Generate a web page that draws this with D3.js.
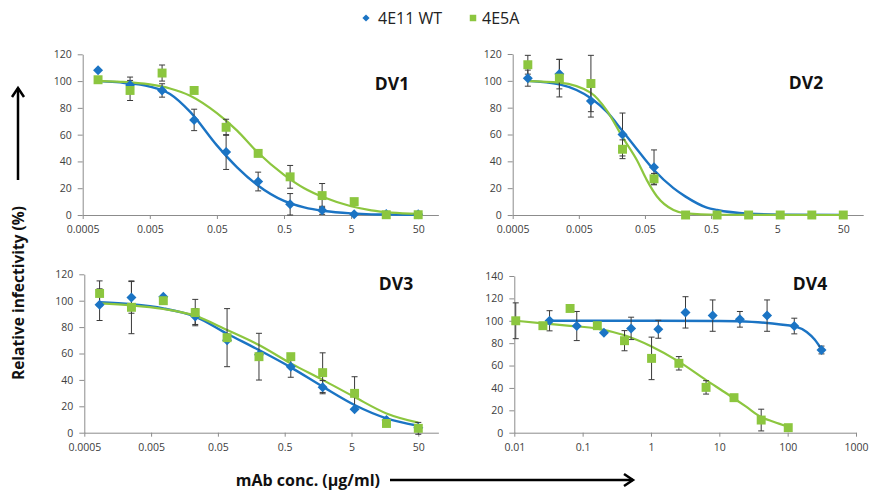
<!DOCTYPE html>
<html><head><meta charset="utf-8">
<script src="https://cdn.jsdelivr.net/npm/d3@7"></script>
<style>body{margin:0;background:#fff}svg{display:block}</style>
</head><body><svg id="c" width="871" height="491"></svg>
<script>
// ---------------- DATA ----------------
const seriesNames = ["4E11 WT", "4E5A"];
const panelNames = ["DV1", "DV2", "DV3", "DV4"];
const xTickValuesA = [0.0005, 0.005, 0.05, 0.5, 5, 50];
const xTickLabelsA = ["0.0005", "0.005", "0.05", "0.5", "5", "50"];
const xTickValuesB = [0.01, 0.1, 1, 10, 100, 1000];
const xTickLabelsB = ["0.01", "0.1", "1", "10", "100", "1000"];
const yTicks120 = [0, 20, 40, 60, 80, 100, 120];
const yTicks140 = [0, 20, 40, 60, 80, 100, 120, 140];
const xAxisTitle = "mAb conc. (µg/ml)";
const yAxisTitle = "Relative infectivity (%)";

// concentrations (µg/ml) for DV1-DV3
const concA = [0.000847, 0.00254, 0.00762, 0.0229, 0.0686, 0.206, 0.617, 1.85, 5.56, 16.7, 50];

// DV1
const dv1WtVal = [108, 97, 93, 71, 47, 25, 8, 3.5, 0.5, 0.7, 0.5];
const dv1WtErr = [0, 6, 5, 8, 13, 7, 8, 3, 0, 0, 0];
const dv1MutVal = [101, 93, 106, 93, 65.5, 46, 28.5, 14.5, 10, 0.2, 0.2];
const dv1MutErr = [0, 7.5, 6, 0, 6, 0, 8.5, 9, 0, 0, 0];
const dv1FitConc = [0.000847, 0.001, 0.002, 0.005, 0.01, 0.02, 0.05, 0.1, 0.2, 0.5, 1, 2, 5, 10, 20, 50];
const dv1WtFit = [100, 99.8, 98.8, 95.9, 90.4, 77, 52, 35.6, 22.4, 10.5, 5.7, 3, 1.2, 0.5, 0.3, 0.2];
const dv1MutFit = [100, 99.9, 99.4, 97.5, 94.5, 89, 76, 63, 47, 30, 20, 13, 6.5, 3.5, 1.8, 0.8];

// DV2
const dv2WtConc = [0.000847, 0.00254, 0.00762, 0.0229, 0.0686];
const dv2WtVal = [102, 105, 85, 60, 35.5];
const dv2WtErr = [6, 11, 12, 16, 13];
const dv2MutVal = [112, 102, 98, 49, 27, 0, 0, 0, 0, 0, 0];
const dv2MutErr = [7, 14, 21, 7, 4, 0, 0, 0, 0, 0, 0];
const dv2WtFitConc = [0.000847, 0.00254, 0.00762, 0.0132, 0.0229, 0.0423, 0.0686, 0.135, 0.206, 0.432, 0.617, 1.85, 5.56, 50];
const dv2WtFit = [100, 97.4, 87, 77, 62.6, 46, 33.5, 20, 13.7, 5.5, 3.7, 1, 0.3, 0.1];
const dv2MutFitConc = [0.000847, 0.00254, 0.00762, 0.0132, 0.0229, 0.0377, 0.0534, 0.0756, 0.135, 0.206, 0.617, 50];
const dv2MutFit = [99.8, 98.6, 91, 78, 58, 41, 26, 14, 3.7, 1.2, 0.2, 0];

// DV3
const dv3WtVal = [97, 102.5, 103, 88, 70, 59, 50, 34.5, 17.7, 9.6, 3.8];
const dv3WtErr = [12, 12, 0, 6, 0, 0, 8, 5, 0, 0, 0];
const dv3MutVal = [105.5, 95, 100, 91, 72, 57.6, 57.6, 45.5, 29.8, 7, 3.3];
const dv3MutErr = [9.5, 20, 0, 10, 22, 17.7, 0, 15, 12.6, 0, 4.5];
const dv3WtFit = [98.8, 97.3, 94.2, 88, 75, 62.6, 49.5, 34.9, 21, 10.9, 5.3];
const dv3MutFit = [98, 96.5, 93.7, 88.5, 77.8, 66.4, 52.5, 40, 27, 14.6, 7.6];

// DV4
const dv4WtConc = [0.0328, 0.082, 0.205, 0.512, 1.28, 3.2, 8, 20, 50, 125, 312.5];
const dv4WtVal = [100, 95.3, 89.4, 93.2, 92.4, 107.5, 104.6, 101.3, 104.6, 95.3, 73.9];
const dv4WtErr = [9, 13, 0, 10, 8, 14, 14, 7, 14, 7, 3.5];
const dv4MutConc = [0.0105, 0.0262, 0.0655, 0.164, 0.41, 1.02, 2.56, 6.4, 16.4, 41, 102];
const dv4MutVal = [100, 95.6, 111, 95.6, 82.2, 66.4, 62, 40.5, 31.3, 11.3, 4.5];
const dv4MutErr = [16, 0, 0, 0, 9, 19, 6, 6, 0, 9.7, 0];
const dv4WtFitConc = [0.0328, 1, 10, 30, 60, 100, 128, 190, 250, 312.5];
const dv4WtFit = [100, 100, 99.8, 99, 97.6, 96, 95, 90, 83, 74.5];
const dv4MutFitConc = [0.0105, 0.0262, 0.0655, 0.164, 0.41, 1.02, 2.56, 6.4, 12.8, 25, 40, 62, 102];
const dv4MutFit = [100, 97.7, 95.5, 93, 87, 77, 63.5, 47, 35, 23, 14.3, 9.8, 5.4];

// ---------------- LAYOUT ----------------
const blue = "#1b74c4", green = "#8cc63f";
const zip = (xs, ys, es) => xs.map((x, i) => ({x, y: ys[i], e: es ? es[i] : 0}));
const panels = [
  {name: panelNames[0], xd: [0.0005, 100], xr: [82.7, 438.4], yd: [0, 120], yr: [215, 54.3], yt: yTicks120,
   xt: xTickValuesA, xl: xTickLabelsA, lab: [392, 83],
   wt: zip(concA, dv1WtVal, dv1WtErr), mut: zip(concA, dv1MutVal, dv1MutErr),
   wtFit: zip(dv1FitConc, dv1WtFit), mutFit: zip(dv1FitConc, dv1MutFit)},
  {name: panelNames[1], xd: [0.0005, 100], xr: [512.7, 863.2], yd: [0, 120], yr: [215, 54], yt: yTicks120,
   xt: xTickValuesA, xl: xTickLabelsA, lab: [806, 82],
   wt: zip(dv2WtConc, dv2WtVal, dv2WtErr), mut: zip(concA, dv2MutVal, dv2MutErr),
   wtFit: zip(dv2WtFitConc, dv2WtFit), mutFit: zip(dv2MutFitConc, dv2MutFit)},
  {name: panelNames[2], xd: [0.0005, 100], xr: [84.3, 438.4], yd: [0, 120], yr: [432.7, 274.3], yt: yTicks120,
   xt: xTickValuesA, xl: xTickLabelsA, lab: [396, 283],
   wt: zip(concA, dv3WtVal, dv3WtErr), mut: zip(concA, dv3MutVal, dv3MutErr),
   wtFit: zip(concA, dv3WtFit), mutFit: zip(concA, dv3MutFit)},
  {name: panelNames[3], xd: [0.01, 1000], xr: [514.3, 856], yd: [0, 140], yr: [432.7, 276], yt: yTicks140,
   xt: xTickValuesB, xl: xTickLabelsB, lab: [810, 283],
   wt: zip(dv4WtConc, dv4WtVal, dv4WtErr), mut: zip(dv4MutConc, dv4MutVal, dv4MutErr),
   wtFit: zip(dv4WtFitConc, dv4WtFit), mutFit: zip(dv4MutFitConc, dv4MutFit)}
];

const svg = d3.select("#c");
const font = "'Open Sans', 'Liberation Sans', sans-serif";
const axisCol = "#8c8c8c", textCol = "#404040";

panels.forEach(p => {
  const x = d3.scaleLog().domain(p.xd).range(p.xr);
  const y = d3.scaleLinear().domain(p.yd).range(p.yr);
  const g = svg.append("g");

  const xa = g.append("g").attr("transform", `translate(0,${p.yr[0]})`)
    .call(d3.axisBottom(x).tickValues(p.xt).tickFormat((d, i) => p.xl[i]).tickSize(4).tickSizeOuter(0).tickPadding(7));
  const ya = g.append("g").attr("transform", `translate(${p.xr[0]},0)`)
    .call(d3.axisLeft(y).tickValues(p.yt).tickSize(5).tickSizeOuter(0).tickPadding(6));
  [xa, ya].forEach(a => {
    a.selectAll("path,line").attr("stroke", axisCol).attr("stroke-width", 1);
    a.selectAll("text").attr("fill", textCol).style("font-family", font).style("font-size", "10.5px");
  });

  const line = d3.line().x(d => x(d.x)).y(d => y(d.y)).curve(d3.curveMonotoneX);
  g.append("path").datum(p.wtFit).attr("d", line).attr("fill", "none").attr("stroke", blue).attr("stroke-width", 2.4);
  g.append("path").datum(p.mutFit).attr("d", line).attr("fill", "none").attr("stroke", green).attr("stroke-width", 2.2);

  const drawErr = (data) => {
    const eg = g.append("g").attr("stroke", "#3a3a3a").attr("stroke-width", 1);
    data.filter(d => d.e > 0).forEach(d => {
      const cx = x(d.x), y1 = y(d.y + d.e), y2 = y(d.y - d.e);
      eg.append("line").attr("x1", cx).attr("x2", cx).attr("y1", y1).attr("y2", y2);
      eg.append("line").attr("x1", cx - 3).attr("x2", cx + 3).attr("y1", y1).attr("y2", y1);
      eg.append("line").attr("x1", cx - 3).attr("x2", cx + 3).attr("y1", y2).attr("y2", y2);
    });
  };
  drawErr(p.wt);
  drawErr(p.mut);

  g.selectAll(".wt").data(p.wt).join("path")
    .attr("d", d3.symbol(d3.symbolSquare, 50)())
    .attr("transform", d => `translate(${x(d.x)},${y(d.y)}) rotate(45)`)
    .attr("fill", blue);
  g.selectAll(".mut").data(p.mut).join("path")
    .attr("d", d3.symbol(d3.symbolSquare, 80)())
    .attr("transform", d => `translate(${x(d.x)},${y(d.y)})`)
    .attr("fill", green);

  g.append("text").attr("x", p.lab[0]).attr("y", p.lab[1]).attr("text-anchor", "middle")
    .attr("dominant-baseline", "central").style("font-family", font).style("font-weight", "bold")
    .style("font-size", "17.5px").attr("fill", "#111").text(p.name);
});

// legend
const lg = svg.append("g");
lg.append("path").attr("d", d3.symbol(d3.symbolSquare, 26)()).attr("transform", "translate(366,18) rotate(45)").attr("fill", blue);
lg.append("text").attr("x", 378).attr("y", 18).attr("dominant-baseline", "central")
  .style("font-family", font).style("font-size", "16px").attr("fill", "#222").text(seriesNames[0]);
lg.append("path").attr("d", d3.symbol(d3.symbolSquare, 42)()).attr("transform", "translate(473,18)").attr("fill", green);
lg.append("text").attr("x", 482).attr("y", 18).attr("dominant-baseline", "central")
  .style("font-family", font).style("font-size", "16px").attr("fill", "#222").text(seriesNames[1]);

// axis titles
svg.append("text").attr("transform", "translate(18,293) rotate(-90)").attr("text-anchor", "middle")
  .attr("dominant-baseline", "central").style("font-family", font).style("font-weight", "bold")
  .style("font-size", "15.5px").attr("fill", "#111").text(yAxisTitle);
svg.append("text").attr("x", 380).attr("y", 480).attr("text-anchor", "end")
  .attr("dominant-baseline", "central").style("font-family", font).style("font-weight", "bold")
  .style("font-size", "16px").attr("fill", "#111").text(xAxisTitle);

// arrows
const ar = svg.append("g").attr("stroke", "#000").attr("stroke-width", 2.5).attr("fill", "none");
ar.append("line").attr("x1", 18).attr("x2", 18).attr("y1", 180).attr("y2", 88);
ar.append("polyline").attr("points", "12,97 18,88 24,97");
ar.append("line").attr("x1", 390).attr("x2", 633).attr("y1", 480).attr("y2", 480);
ar.append("polyline").attr("points", "624,474 633,480 624,486");
</script></body></html>
